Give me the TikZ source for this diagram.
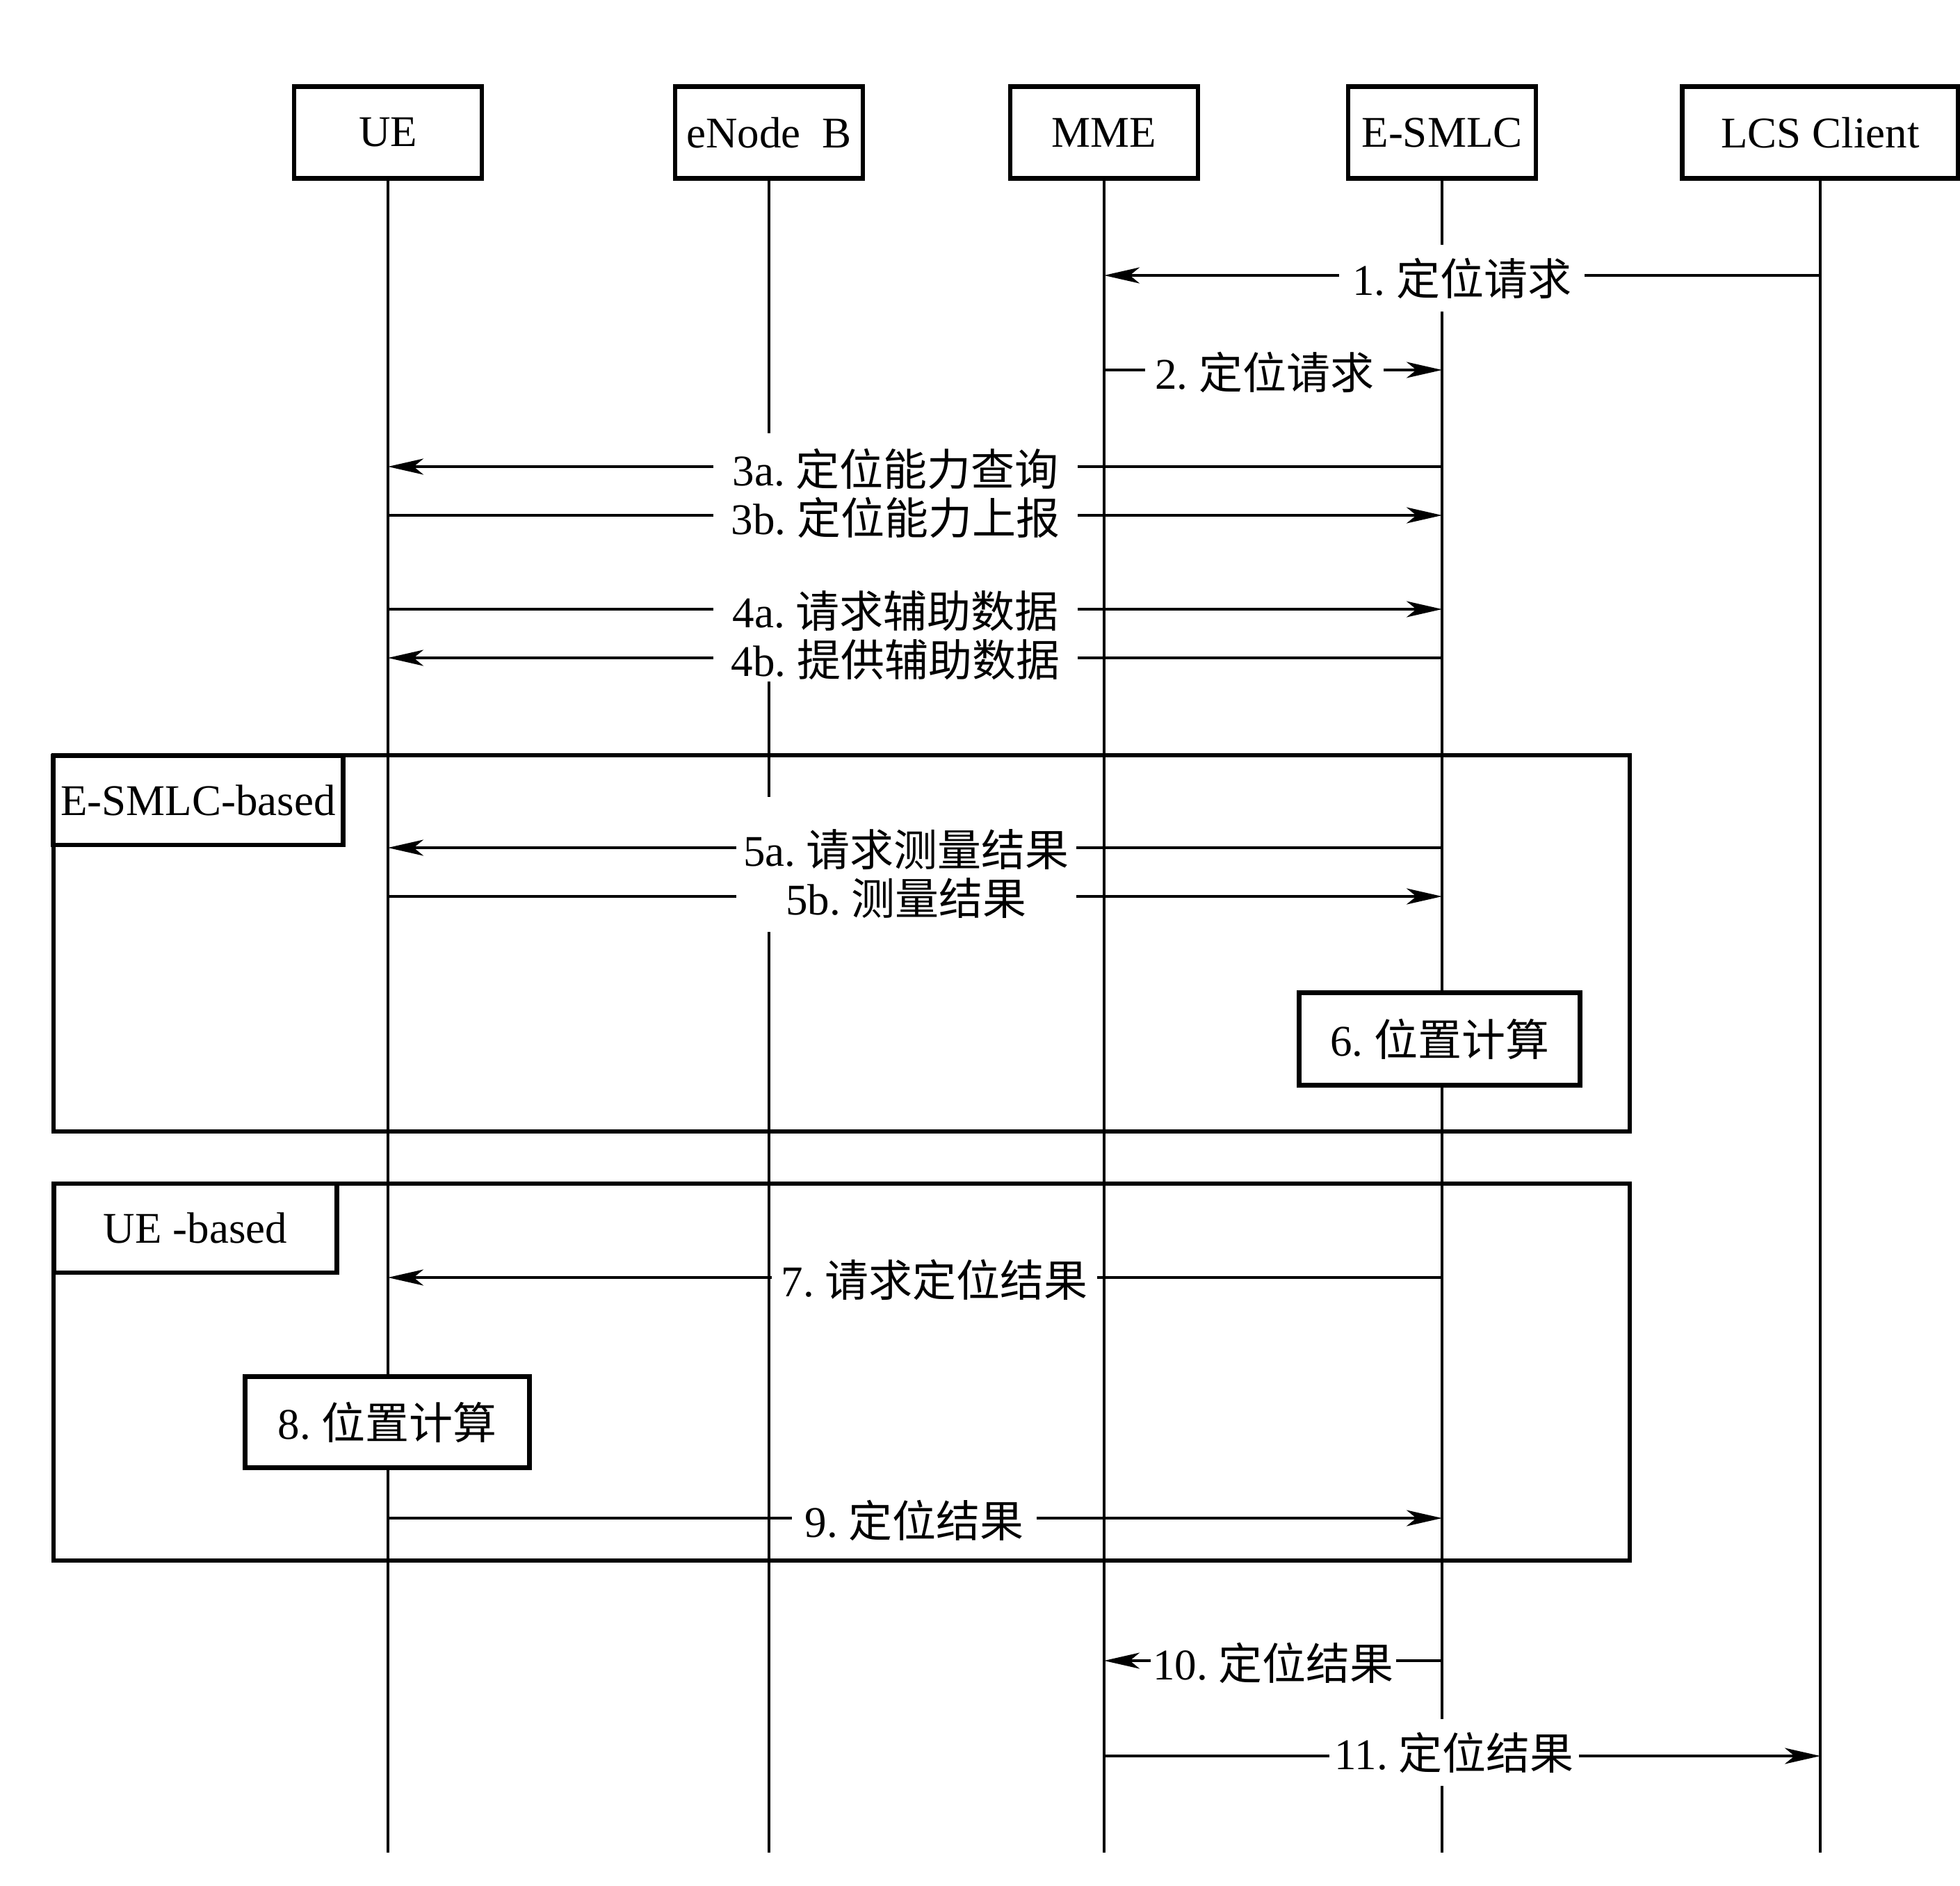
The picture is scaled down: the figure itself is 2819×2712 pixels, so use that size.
\documentclass[tikz,border=0pt]{standalone}
\usepackage{fontspec}
\setmainfont{Liberation Serif}
\newfontfamily\cjk{Noto Sans CJK SC}
\usetikzlibrary{arrows.meta}
\newcommand{\ml}[2]{#1\ {\cjk #2}}
\begin{document}
\begin{tikzpicture}[x=0.5pt,y=-0.5pt,
  txt/.style={font=\fontsize{31.5pt}{38pt}\selectfont},
  head/.style={txt,draw,line width=3.35pt,fill=white,minimum width=135pt,minimum height=66pt,inner sep=0pt},
  life/.style={line width=2pt},
  msg/.style={line width=1.9pt,-{Stealth[length=25.5pt,width=11.5pt,inset=7pt]}},
  lbl/.style={txt,fill=white,inner xsep=0pt,inner ysep=1pt},
  grpline/.style={line width=3.35pt},
  grplbl/.style={txt,draw,line width=3.35pt,inner sep=0pt,minimum height=64pt},
  calcbox/.style={txt,draw,fill=white,line width=3.35pt,inner sep=0pt,minimum height=66pt},
]
\useasboundingbox (0,0) rectangle (2819,2712);

% participants
\node[head] (ue)   at (558,190.5)  {UE};
\node[head] (enb)  at (1106,190.5) {eNode\ \ B};
\node[head] (mme)  at (1588,190.5) {MME};
\node[head] (sm)   at (2074,190.5) {E-SMLC};
\node[head,minimum width=198.5pt] (lcs) at (2618,190.5) {LCS Client};

% group frames
\draw[grpline] (77,1086) rectangle (2344,1627);
\node[grplbl,minimum width=208.75pt] (g1) at (285,1151) {E-SMLC-based};
\draw[grpline] (77,1702) rectangle (2344,2244);
\node[grplbl,minimum width=203.75pt] (g2) at (281,1766) {UE -based};

% lifelines
\coordinate (bot) at (0,2664);
\coordinate (e1) at (0,623);
\coordinate (e2) at (0,980);
\coordinate (e3) at (0,1146);
\coordinate (e4) at (0,1340);
\draw[life] (ue.south) -- (ue.south |- bot);
\draw[life] (enb.south) -- (enb.south |- e1);
\draw[life] (enb.south |- e2) -- (enb.south |- e3);
\draw[life] (enb.south |- e4) -- (enb.south |- bot);
\draw[life] (mme.south) -- (mme.south |- bot);
\draw[life] (sm.south) -- (sm.south |- bot);
\draw[life] (lcs.south) -- (lcs.south |- bot);

% message rows
\coordinate (y1) at (0,396);
\coordinate (y2) at (0,532);
\coordinate (y3a) at (0,671);
\coordinate (y3b) at (0,741);
\coordinate (y4a) at (0,876);
\coordinate (y4b) at (0,946);
\coordinate (y5a) at (0,1219);
\coordinate (y5b) at (0,1289);
\coordinate (y7) at (0,1837);
\coordinate (y9) at (0,2183);
\coordinate (y10) at (0,2388);
\coordinate (y11) at (0,2525);

\draw[msg] (lcs.south |- y1) -- (mme.south |- y1);
\draw[msg] (mme.south |- y2) -- (sm.south |- y2);
\draw[msg] (sm.south |- y3a) -- (ue.south |- y3a);
\draw[msg] (ue.south |- y3b) -- (sm.south |- y3b);
\draw[msg] (ue.south |- y4a) -- (sm.south |- y4a);
\draw[msg] (sm.south |- y4b) -- (ue.south |- y4b);
\draw[msg] (sm.south |- y5a) -- (ue.south |- y5a);
\draw[msg] (ue.south |- y5b) -- (sm.south |- y5b);
\draw[msg] (sm.south |- y7) -- (ue.south |- y7);
\draw[msg] (ue.south |- y9) -- (sm.south |- y9);
\draw[msg] (sm.south |- y10) -- (mme.south |- y10);
\draw[msg] (mme.south |- y11) -- (lcs.south |- y11);

% labels
\node[lbl,minimum width=176.5pt,minimum height=48pt] (l1) at (2102.5,400) {\ml{1.}{定位请求}};
\node[lbl,minimum width=171.5pt] (l2) at (1818.5,535) {\ml{2.}{定位请求}};
\node[lbl,minimum width=262pt] (l3a) at (1288,674) {\ml{3a.}{定位能力查询}};
\node[lbl,minimum width=262pt] (l3b) at (1288,744) {\ml{3b.}{定位能力上报}};
\node[lbl,minimum width=262pt] (l4a) at (1288,879) {\ml{4a.}{请求辅助数据}};
\node[lbl,minimum width=262pt] (l4b) at (1288,949) {\ml{4b.}{提供辅助数据}};
\node[lbl,minimum width=244.5pt] (l5a) at (1303.5,1222) {\ml{5a.}{请求测量结果}};
\node[lbl,minimum width=244.5pt] (l5b) at (1303.5,1292) {\ml{5b.}{测量结果}};
\node[lbl,minimum width=234pt] (l7) at (1344,1840) {\ml{7.}{请求定位结果}};
\node[lbl,minimum width=176pt] (l9) at (1315,2186) {\ml{9.}{定位结果}};
\node[lbl,minimum width=176.5pt] (l10) at (1831.5,2391) {\ml{10.}{定位结果}};
\node[lbl,minimum width=179.5pt,minimum height=48pt] (l11) at (2091.5,2520) {\ml{11.}{定位结果}};

% computation boxes
\node[calcbox,minimum width=202pt,minimum height=66.5pt] (c6) at (2070.5,1494) {\ml{6.}{位置计算}};
\node[calcbox,minimum width=204.5pt,minimum height=65.5pt] (c8) at (557,2045) {\ml{8.}{位置计算}};
\end{tikzpicture}
\end{document}
